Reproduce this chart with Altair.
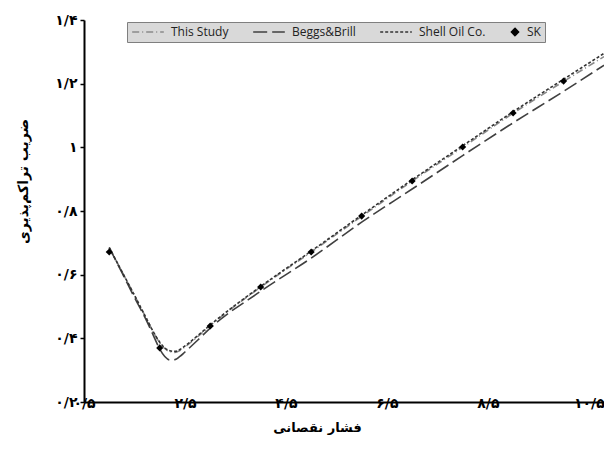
import altair as alt
import pandas as pd

# ---- data ----
series_names = ["This Study", "Beggs&Brill", "Shell Oil Co.", "SK"]

sk_x = [1, 2, 3, 4, 5, 6, 7, 8, 9, 10]
sk_y = [0.671, 0.370, 0.439, 0.561, 0.671, 0.784, 0.894, 1.001, 1.108, 1.208]

curve_x = [1.0, 1.25, 1.5, 1.75, 1.9, 2.0, 2.1, 2.2, 2.3, 2.4, 2.5, 2.75, 3.0, 4, 5, 6, 7, 8, 9, 10, 10.8]
this_study = [0.685, 0.61, 0.535, 0.458, 0.412, 0.386, 0.368, 0.358, 0.356, 0.362, 0.373, 0.405, 0.44,
              0.561, 0.671, 0.783, 0.894, 1.0, 1.107, 1.207, 1.285]
beggs_brill = [0.685, 0.607, 0.528, 0.452, 0.4, 0.366, 0.343, 0.332, 0.333, 0.343, 0.357, 0.394, 0.432,
               0.548, 0.652, 0.765, 0.869, 0.974, 1.077, 1.176, 1.258]
shell_oil = [0.685, 0.61, 0.535, 0.458, 0.413, 0.388, 0.37, 0.361, 0.359, 0.365, 0.376, 0.408, 0.442,
             0.563, 0.674, 0.787, 0.898, 1.005, 1.112, 1.214, 1.295]

x_ticks = [0.5, 2.5, 4.5, 6.5, 8.5, 10.5]
x_tick_labels = ["۰/۵", "۲/۵", "۴/۵", "۶/۵", "۸/۵", "۱۰/۵"]
y_ticks = [0.2, 0.4, 0.6, 0.8, 1.0, 1.2, 1.4]
y_tick_labels = ["۰/۲", "۰/۴", "۰/۶", "۰/۸", "۱", "۱/۲", "۱/۴"]

x_title = "فشار نقصانی"
y_title = "ضریب تراکم‌پذیری"

# ---- tables ----
rows = []
for name, vals in [("This Study", this_study), ("Beggs&Brill", beggs_brill), ("Shell Oil Co.", shell_oil)]:
    for i, (xv, yv) in enumerate(zip(curve_x, vals)):
        rows.append({"x": xv, "y": yv, "series": name, "order": i})
curves = pd.DataFrame(rows)
points = pd.DataFrame({"x": sk_x, "y": sk_y, "series": ["SK"] * len(sk_x)})


def label_expr(ticks, labels):
    expr = "''"
    for t, l in reversed(list(zip(ticks, labels))):
        expr = f"abs(datum.value - {t}) < 1e-6 ? '{l}' : ({expr})"
    return expr


color_scale = alt.Scale(domain=series_names, range=["#8a8a8a", "#404040", "#333333", "#000000"])
dash_scale = alt.Scale(domain=series_names, range=[[7, 3, 1, 3], [14, 5], [3, 2], [1, 0]])
shape_scale = alt.Scale(domain=series_names, range=["stroke", "stroke", "stroke", "diamond"])
size_scale = alt.Scale(type="ordinal", domain=series_names, range=[1000, 1000, 1000, 50])

x_enc = alt.X("x:Q", scale=alt.Scale(domain=[0.5, 10.8], nice=False, zero=False),
              axis=alt.Axis(values=x_ticks, labelExpr=label_expr(x_ticks, x_tick_labels),
                            title=x_title, ticks=False, labelBaseline="middle", labelPadding=1,
                            titleX=233, titleY=25, titleBaseline="middle",
                            titleAlign="center"))
y_enc = alt.Y("y:Q", scale=alt.Scale(domain=[0.2, 1.4], nice=False, zero=False),
              axis=alt.Axis(values=y_ticks, labelExpr=label_expr(y_ticks, y_tick_labels),
                            title=y_title, tickSize=4, labelPadding=3, titleFontSize=14,
                            titleX=-61, titleY=161, titleBaseline="middle", titleAlign="center"))

legend = alt.Legend(
    orient="none", legendX=43, legendY=2, direction="horizontal", title=None,
    fillColor="#d9d9d9", strokeColor="#7f7f7f", padding=4, clipHeight=12,
    symbolStrokeWidth=1.6,
    labelFont="Open Sans", labelFontSize=12, labelColor="#222222", labelOffset=6,
    columnPadding=23,
)

lines = alt.Chart(curves).mark_line(interpolate="monotone", strokeWidth=1.6).encode(
    x=x_enc, y=y_enc,
    color=alt.Color("series:N", scale=color_scale, legend=legend),
    strokeDash=alt.StrokeDash("series:N", scale=dash_scale, legend=legend),
    order="order:Q",
)

pts = alt.Chart(points).mark_point(filled=True, opacity=1).encode(
    x="x:Q", y="y:Q",
    color=alt.Color("series:N", scale=color_scale, legend=legend),
    shape=alt.Shape("series:N", scale=shape_scale, legend=legend),
    size=alt.Size("series:N", scale=size_scale, legend=legend),
)

chart = alt.layer(lines, pts).properties(
    width=520, height=382,
    autosize=alt.AutoSizeParams(type="none"),
    padding={"left": 84, "top": 20, "right": 0, "bottom": 54},
).configure_view(stroke=None).configure_axis(
    grid=False, domainColor="#000000", domainWidth=2, tickColor="#000000", tickWidth=1.5,
    labelFont="DejaVu Sans", labelFontWeight="bold", labelFontSize=14, labelColor="#000000",
    titleFont="DejaVu Sans", titleFontWeight="bold", titleFontSize=13, titleColor="#000000",
    labelOverlap=False, labelFlush=False,
)

chart.save("out.html", embed_options={"renderer": "svg", "actions": False})
